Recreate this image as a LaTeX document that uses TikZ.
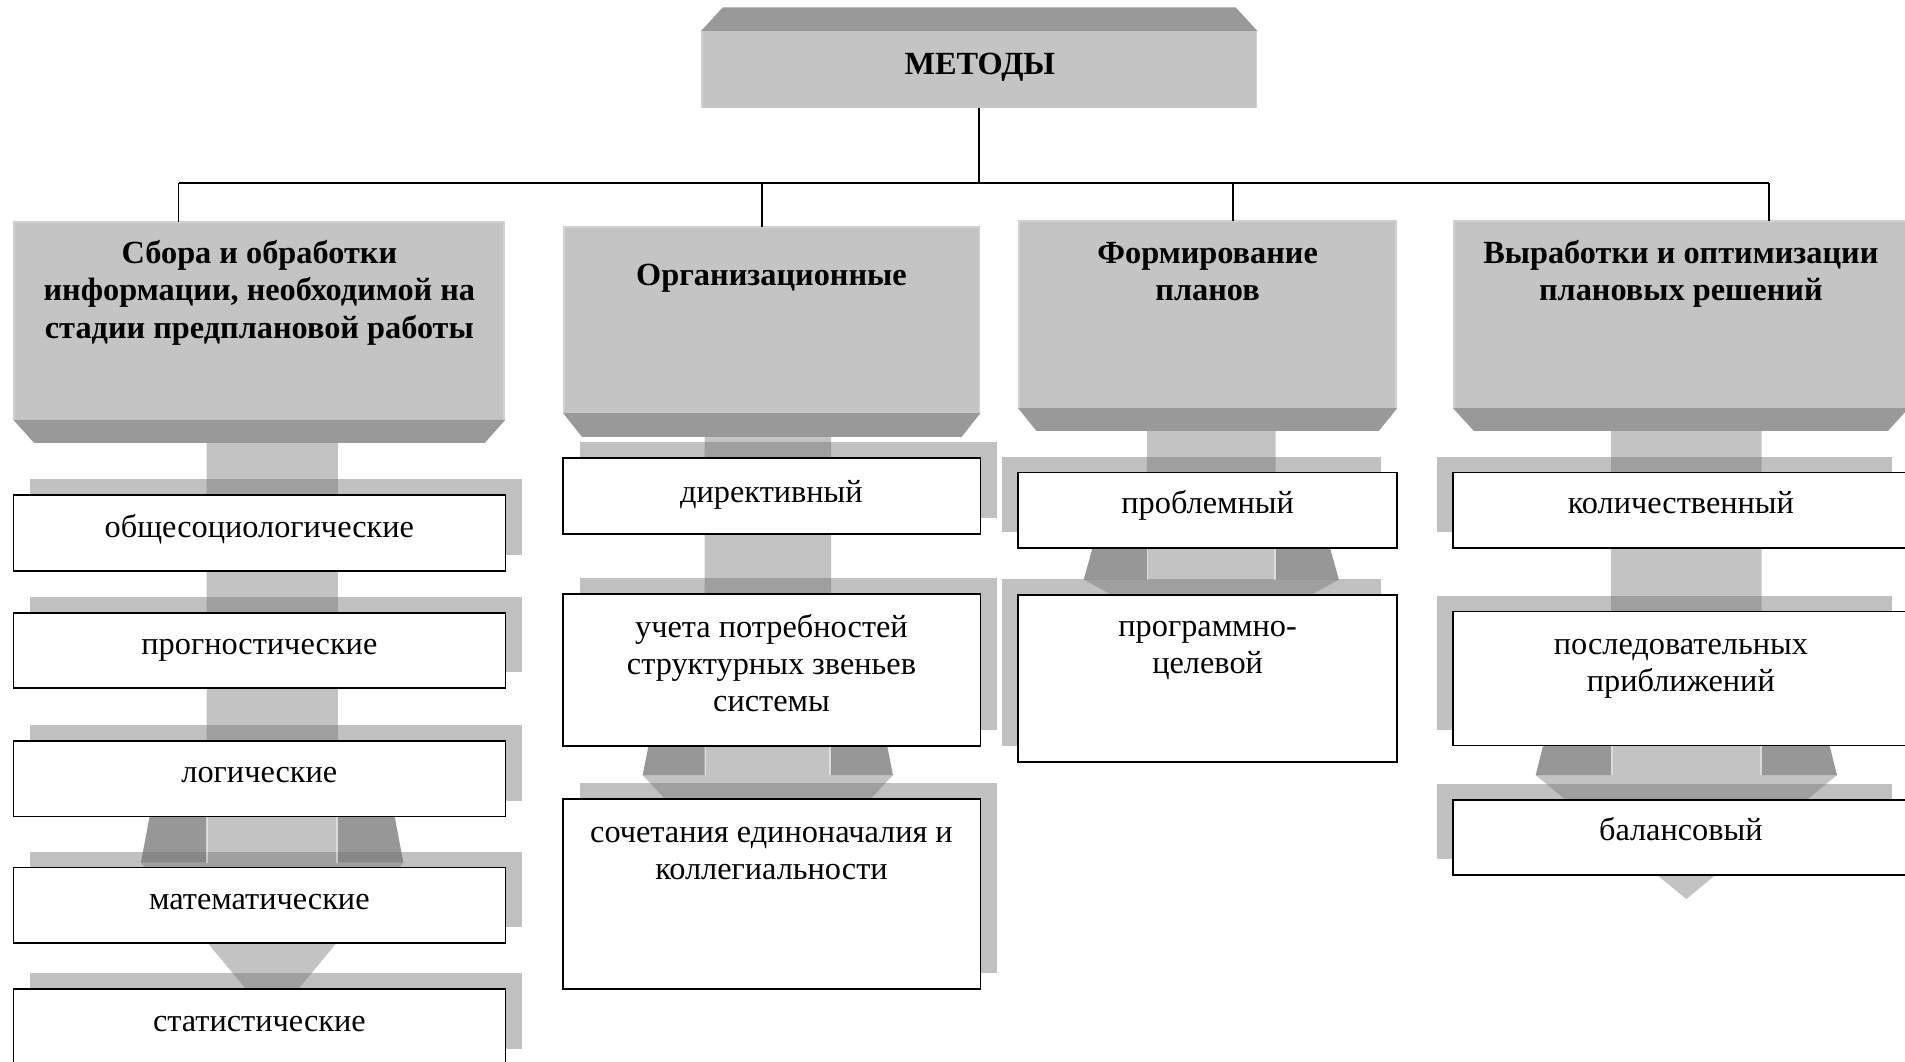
\documentclass[tikz,border=0pt]{standalone}
\usepackage{fontspec}
\setmainfont{Liberation Serif}
\usetikzlibrary{fit,calc}
\definecolor{facec}{gray}{0.769}
\definecolor{trapc}{gray}{0.6}
\definecolor{shadc}{gray}{0.753}
\definecolor{arrc}{gray}{0.46}
\definecolor{edgec}{gray}{0.82}
\pgfdeclarelayer{bg}
\pgfdeclarelayer{shad}
\pgfdeclarelayer{arr}
\pgfsetlayers{bg,shad,arr,main}
\tikzset{
  wbox/.style={draw=black, line width=0.7pt, fill=white, inner sep=0pt, outer sep=0pt},
  hface/.style={fill=facec, inner sep=0pt, outer sep=0pt},
  txt/.style={anchor=north, align=center, inner sep=0pt, font=\fontsize{13.3}{15.3}\selectfont},
  htxt/.style={anchor=north, align=center, inner sep=0pt, font=\fontsize{13.3}{15.3}\selectfont\bfseries},
  conn/.style={line width=0.65pt, draw=black},
  stemfill/.style={fill=arrc, fill opacity=0.43},
  wingfill/.style={fill=arrc, fill opacity=0.75},
  shadfill/.style={fill=shadc},
  trapfill/.style={fill=trapc},
  bevel/.style={draw=white, draw opacity=0.45, line width=0.7pt}
}
% shadow of a box node: #1 node, #2 dx, #3 dy
\newcommand\shadowof[3]{\fill[shadfill] ($(#1.south west)+(#2,#3)$) rectangle ($(#1.north east)+(#2,#3)$);}
% arrow: #1 c, #2 s, #3 y0, #4 yw, #5 wt, #6 wb, #7 yb, #8 ya
\newcommand\colarrow[8]{%
  \fill[stemfill] (#1-#2,#3) -- (#1-#2,#7) -- (#1-#6,#7) -- (#1,#8) -- (#1+#6,#7) -- (#1+#2,#7) -- (#1+#2,#3) -- cycle;
  \fill[wingfill] (#1-#5,#4) -- (#1-#2,#4) -- (#1-#2,#7) -- (#1-#6,#7) -- cycle;
  \fill[wingfill] (#1+#5,#4) -- (#1+#2,#4) -- (#1+#2,#7) -- (#1+#6,#7) -- cycle;
  \draw[bevel] (#1-#2+0.6,#4) -- (#1-#2+0.6,#7);
  \draw[bevel] (#1+#2-0.6,#4) -- (#1+#2-0.6,#7);
}
% header trapezoid below a face node: #1 node, #2 inset, #3 depth
\newcommand\headtrap[3]{\fill[trapfill] (#1.south west) -- (#1.south east) -- ++(-#2,#3) -- ($(#1.south west)+(#2,#3)$) -- cycle;
  \draw[edgec, line width=0.8pt] ($(#1.south west)+(0.8,0)$) -- ($(#1.north west)+(0.8,0)$) -- ($(#1.north east)+(-0.8,0)$) -- ($(#1.south east)+(-0.8,0)$);}
\begin{document}
\begin{tikzpicture}[x=0.5pt, y=-0.5pt]
\useasboundingbox (0,0) rectangle (1568,874);
\begin{pgfonlayer}{bg}
  \fill[white] (0,0) rectangle (1568,874);
\end{pgfonlayer}

% ---------- top box ----------
\node[hface, fit={(577,25.5) (1035,89)}] (top) {};
\fill[trapfill] (top.north west) -- (top.north east) -- ++(-18,-19.5) -- ($(top.north west)+(18,-19.5)$) -- cycle;
\draw[edgec, line width=0.8pt] ($(top.south west)+(0.8,0)$) -- ($(top.north west)+(0.8,0)$);
\draw[edgec, line width=0.8pt] ($(top.south east)+(-0.8,0)$) -- ($(top.north east)+(-0.8,0)$);
\node[htxt] (ttop) at (806.5,39.6) {\strut МЕТОДЫ};

% ---------- column headers ----------
\node[hface, fit={(11,182.5) (416,345.5)}] (h1) {};
\headtrap{h1}{17}{19}
\node[hface, fit={(463.5,187) (807,340)}] (h2) {};
\headtrap{h2}{15.5}{19.6}
\node[hface, fit={(838,181.6) (1150,336)}] (h3) {};
\headtrap{h3}{15}{18.6}
\node[hface, fit={(1196,181.6) (1571,336)}] (h4) {};
\headtrap{h4}{17}{18.6}

\node[htxt] (th1) at (213.5,195.3) {\strut Сбора и обработки\\\strut информации, необходимой на\\\strut стадии предплановой работы};
\node[htxt] (th2) at (635,213.1) {\strut Организационные};
\node[htxt] (th3) at (994,195.3) {\strut Формирование\\\strut планов};
\node[htxt] (th4) at (1383.5,195.3) {\strut Выработки и оптимизации\\\strut плановых решений};

% ---------- connectors ----------
\coordinate (d1) at (147,150.5);
\coordinate (d2) at (627,150.5);
\coordinate (d3) at (1015,150.5);
\coordinate (d4) at (1456,150.5);
\draw[conn] (top.south) -- (top.south |- d1);
\draw[conn] (d1) -- (d4);
\draw[conn] (d1) -- (d1 |- h1.north);
\draw[conn] (d2) -- (d2 |- h2.north);
\draw[conn] (d3) -- (d3 |- h3.north);
\draw[conn] (d4) -- (d4 |- h4.north);

% ---------- column 1 ----------
\node[wbox, fit={(11,407.4) (416,469.7)}] (b11) {};
\node[wbox, fit={(11,504.3) (416,566)}] (b12) {};
\node[wbox, fit={(11,610) (416,672)}] (b13) {};
\node[wbox, fit={(11,714) (416,776)}] (b14) {};
\node[wbox, fit={(11,814) (416,876)}] (b15) {};
\node[txt] (t11) at (213.5,420.5) {\strut общесоциологические};
\node[txt] (t12) at (213.5,516.7) {\strut прогностические};
\node[txt] (t13) at (213.5,622.1) {\strut логические};
\node[txt] (t14) at (213.5,727.1) {\strut математические};
\node[txt] (t15) at (213.5,827.1) {\strut статистические};

% ---------- column 2 ----------
\node[wbox, fit={(463.5,377) (807,439.7)}] (b21) {};
\node[wbox, fit={(463.5,489) (807,614)}] (b22) {};
\node[wbox, fit={(463.5,657.7) (807,814)}] (b23) {};
\node[txt] (t21) at (635,391.8) {\strut директивный};
\node[txt] (t22) at (635,502.9) {\strut учета потребностей\\\strut структурных звеньев\\\strut системы};
\node[txt] (t23) at (635,671.5) {\strut сочетания единоначалия и\\\strut коллегиальности};

% ---------- column 3 ----------
\node[wbox, fit={(838,389) (1150,451)}] (b31) {};
\node[wbox, fit={(838,489.7) (1150,627)}] (b32) {};
\node[txt] (t31) at (994,401.1) {\strut проблемный};
\node[txt] (t32) at (994,502.3) {\strut программно-\\\strut целевой};

% ---------- column 4 ----------
\node[wbox, fit={(1196,389) (1571,451)}] (b41) {};
\node[wbox, fit={(1196,503.4) (1571,613.7)}] (b42) {};
\node[wbox, fit={(1196,658.6) (1571,720)}] (b43) {};
\node[txt] (t41) at (1383.5,401.1) {\strut количественный};
\node[txt] (t42) at (1383.5,516.6) {\strut последовательных\\\strut приближений};
\node[txt] (t43) at (1383.5,670.3) {\strut балансовый};

% ---------- shadows ----------
\begin{pgfonlayer}{shad}
  \shadowof{b11}{13.5}{-13}
  \shadowof{b12}{13.5}{-13}
  \shadowof{b13}{13.5}{-13}
  \shadowof{b14}{13.5}{-13}
  \shadowof{b15}{13.5}{-13}
  \shadowof{b21}{13.5}{-13}
  \shadowof{b22}{13.5}{-13}
  \shadowof{b23}{13.5}{-13}
  \shadowof{b31}{-13.5}{-13}
  \shadowof{b32}{-13.5}{-13}
  \shadowof{b41}{-13.5}{-13}
  \shadowof{b42}{-13.5}{-13}
  \shadowof{b43}{-13.5}{-13}
\end{pgfonlayer}

% ---------- block arrows ----------
\begin{pgfonlayer}{arr}
  \colarrow{224}{54}{364.5}{662}{99}{108}{710}{840}
  \colarrow{632}{52}{359.6}{605}{96.5}{103}{638}{748}
  \colarrow{997}{53}{354.6}{443}{95.5}{105}{477}{535}
  \colarrow{1388}{62}{354.6}{606}{116}{124}{638}{740}
\end{pgfonlayer}
\end{tikzpicture}
\end{document}
